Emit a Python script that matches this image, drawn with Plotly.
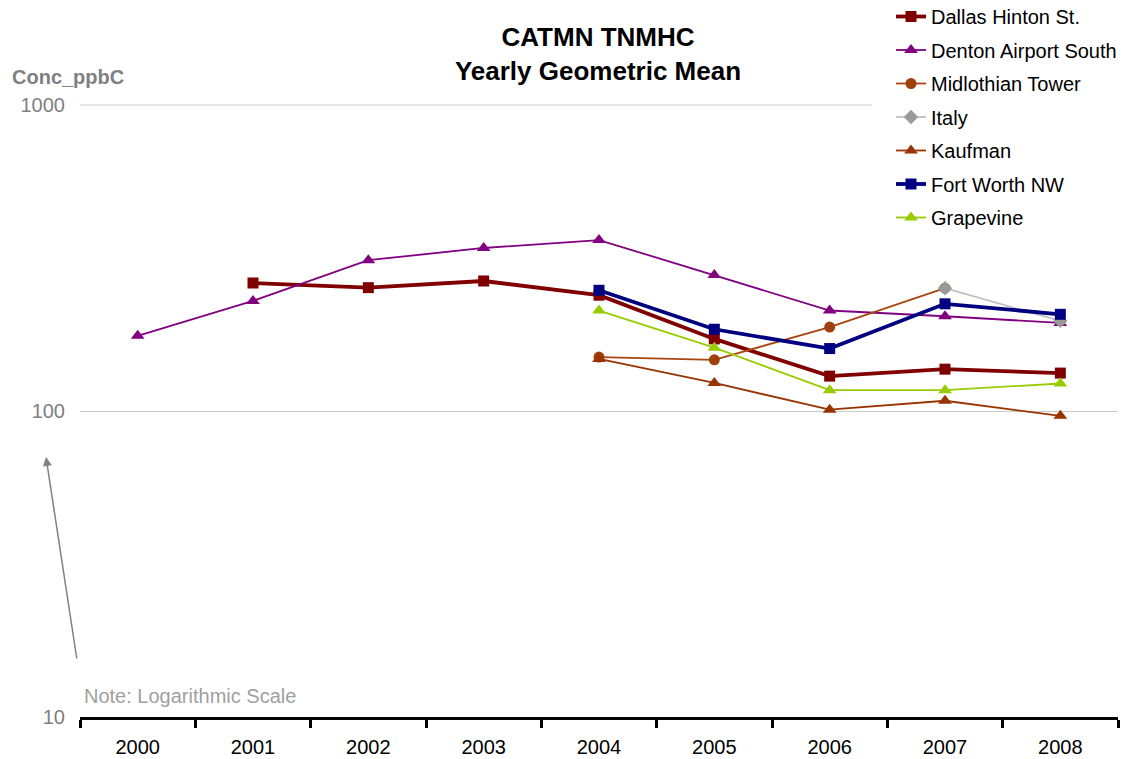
import plotly.graph_objects as go

years = ["2000", "2001", "2002", "2003", "2004", "2005", "2006", "2007", "2008"]

dallas = [None, 262, 253, 266, 239, 172, 130, 137, 133]
denton = [176, 229, 311, 341, 362, 278, 213, 204, 194]
midlothian = [None, None, None, None, 150, 147, 188, 252, None]
italy = [None, None, None, None, None, None, None, 252, 197]
kaufman = [None, None, None, None, 148, 123.5, 101, 108, 96.4]
fort_worth = [None, None, None, None, 248, 185, 160, 224, 207]
grapevine = [None, None, None, None, 213, 161, 117, 117, 123]

FONT = "Arial, Liberation Sans, sans-serif"

series = [
    ("Dallas Hinton St.", dallas, "#800000", 3.8, "square", 11, "#800000"),
    ("Denton Airport South", denton, "#800080", 1.8, "triangle-up", 12, "#800080"),
    ("Midlothian Tower", midlothian, "#A8450F", 1.8, "circle", 11, "#A0400C"),
    ("Italy", italy, "#C0C0C0", 1.8, "diamond", 11, "#999999"),
    ("Kaufman", kaufman, "#993300", 1.8, "triangle-up", 12, "#993300"),
    ("Fort Worth NW", fort_worth, "#000080", 3.8, "square", 11, "#000080"),
    ("Grapevine", grapevine, "#99CC00", 1.8, "triangle-up", 12, "#99CC00"),
]

fig = go.Figure()
for i, (name, vals, color, lw, sym, msize, mcolor) in enumerate(series):
    fig.add_trace(go.Scatter(
        x=years, y=vals, name=name, mode="lines+markers",
        line=dict(color=color, width=lw),
        marker=dict(symbol=sym, size=msize, color=mcolor,
                    line=dict(width=0)),
        legendgroup=f"g{i}",
        connectgaps=False,
    ))

fig.update_layout(
    width=1121, height=759,
    margin=dict(l=80, r=3, t=105, b=42, autoexpand=False),
    paper_bgcolor="white", plot_bgcolor="white",
    font=dict(family=FONT, size=20, color="black"),
    title=dict(
        text="<b>CATMN TNMHC<br>Yearly Geometric Mean</b>",
        x=598 / 1121, xanchor="center", xref="container",
        y=1 - 46 / 759, yanchor="middle", yref="container",
        font=dict(family=FONT, size=26, color="black"),
    ),
    showlegend=True,
    legend=dict(
        x=(891 - 80) / 1038, xanchor="left",
        y=(717 + 3) / 612, yanchor="top",
        bgcolor="white",
        font=dict(family=FONT, size=20, color="black"),
        tracegroupgap=4.5,
        traceorder="grouped",
    ),
)

# upper gridline at 1000, stopping short of the legend
fig.add_shape(
    type="line", xref="paper", yref="paper",
    x0=0, x1=(872 - 80) / 1038, y0=1, y1=1,
    line=dict(color="#C8C8C8", width=1), layer="below",
)

fig.update_xaxes(
    type="category", range=[-0.5, 8.5],
    tickson="boundaries", ticks="outside", ticklen=8, tickwidth=3,
    tickcolor="black", showline=True, linecolor="black", linewidth=3,
    showgrid=False, zeroline=False, ticklabelstandoff=10,
    tickfont=dict(family=FONT, size=20, color="black"),
)

fig.update_yaxes(
    type="log", range=[1, 3],
    tickvals=[10, 100, 1000], ticktext=["10", "100", "1000"],
    showgrid=True, gridcolor="#C8C8C8", gridwidth=1,
    showline=False, zeroline=False, ticks="",
    ticklabelstandoff=14,
    tickfont=dict(family=FONT, size=20, color="#808080"),
)

fig.add_annotation(
    text="<b>Conc_ppbC</b>", xref="paper", yref="paper",
    x=(10 - 80) / 1038, y=(717 - 77) / 612,
    xanchor="left", yanchor="middle", showarrow=False,
    font=dict(family=FONT, size=20, color="#808080"),
)

fig.add_annotation(
    text="Note: Logarithmic Scale", xref="paper", yref="paper",
    x=(82 - 80) / 1038, y=(717 - 696) / 612,
    xanchor="left", yanchor="middle", showarrow=False,
    font=dict(family=FONT, size=20, color="#A0A0A0"),
)

fig.add_annotation(
    text="", xref="paper", yref="paper",
    x=(46 - 80) / 1038, y=(717 - 457) / 612,
    ax=31, ay=203, axref="pixel", ayref="pixel",
    showarrow=True, arrowhead=2, arrowsize=1.2, arrowwidth=1.5,
    arrowcolor="#808080",
)

fig.write_html("out.html")
